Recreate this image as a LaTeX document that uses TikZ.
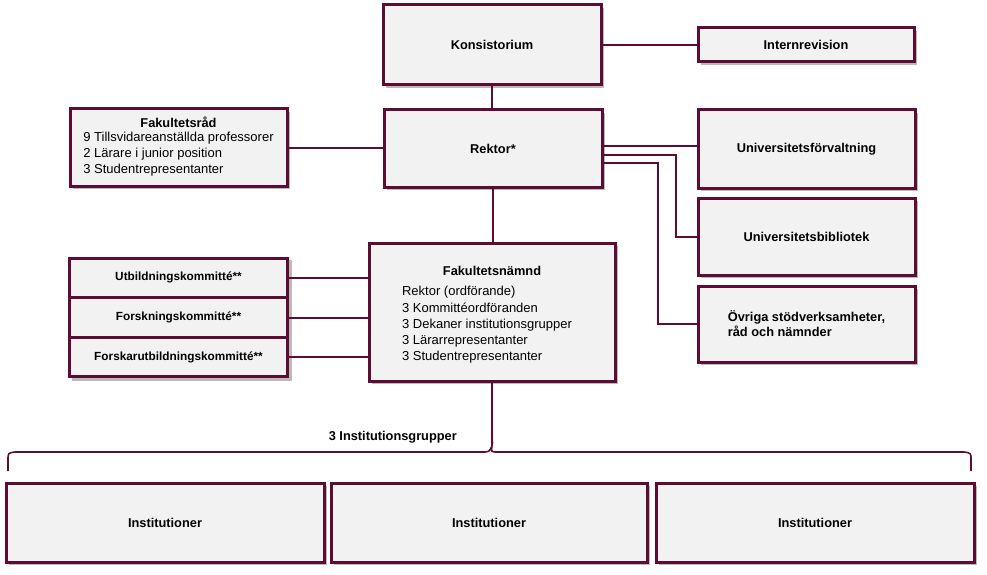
\documentclass[tikz,border=0pt]{standalone}
\usepackage{fontspec}
\setmainfont{Liberation Sans}
\usetikzlibrary{matrix, positioning, shadows}
\definecolor{orgred}{RGB}{94,12,52}
\definecolor{orgfill}{RGB}{242,242,242}
\tikzset{plainbox/.style = {%
    draw=orgred, line width=3pt, fill=orgfill,
    font=\bfseries\fontsize{12.8}{15}\selectfont,
    inner sep=4pt, anchor=center},
    orgbox/.style = {plainbox,
    drop shadow={shadow xshift=3pt, shadow yshift=-3pt,
                 opacity=0.45, fill=black!60}},
    orgline/.style = {draw=orgred, line width=2pt},
    kommittematrix/.style = {%
    matrix of nodes,
     nodes={plainbox, minimum width=217pt, minimum height=39.6pt,
            font=\bfseries\fontsize{11.8}{14}\selectfont},
    row sep=-3pt,
    inner sep=0pt,
    drop shadow={shadow xshift=3pt, shadow yshift=-3pt,
                 opacity=0.45, fill=black!60}},
    grplabel/.style = {font=\bfseries\fontsize{12.8}{15}\selectfont, inner sep=0pt}}

\begin{document}
\begin{tikzpicture}[x=1pt, y=-1pt]
\useasboundingbox (0,0) rectangle (987,575);

% top level
\node[orgbox, minimum width=218pt, minimum height=80pt] (konsistorium) at (492,45) {Konsistorium};
\node[orgbox, minimum width=216pt, minimum height=34pt] (internrevision) at (806,45) {Internrevision};
\node[orgbox, minimum width=218pt, minimum height=77pt] (rektor) at (493,148.5) {Rektor*};

% Fakultetsråd
\node[orgbox, minimum width=217pt, minimum height=77pt, align=center] (fakultetsrad) at (178.5,147.5)
  {Fakultetsråd\\[1pt]
   \mdseries\fontsize{13}{16}\selectfont
   \begin{tabular}{@{}l@{}}
   9 Tillsvidareanställda professorer\\
   2 Lärare i junior position\\
   3 Studentrepresentanter
   \end{tabular}};

% stödverksamheter
\node[orgbox, minimum width=217pt, minimum height=78pt] (forvaltning) at (806.5,149) {Universitetsförvaltning};
\node[orgbox, minimum width=217pt, minimum height=77pt] (bibliotek) at (806.5,236.5) {Universitetsbibliotek};
\node[orgbox, minimum width=217pt, minimum height=76pt, align=left] (ovriga) at (806.5,324)
  {Övriga stödverksamheter,\\råd och nämnder};

% Fakultetsnämnd
\node[orgbox, minimum width=246pt, minimum height=138pt, align=center] (namnd) at (492,312)
  {\rule{0pt}{17pt}Fakultetsnämnd\\[8pt]
   \mdseries\fontsize{13}{16.3}\selectfont
   \begin{tabular}{@{}l@{}}
   Rektor (ordförande)\\
   3 Kommittéordföranden\\
   3 Dekaner institutionsgrupper\\
   3 Lärarrepresentanter\\
   3 Studentrepresentanter
   \end{tabular}\hspace*{10pt}};

% kommittéer
\matrix (kom) at (178.5,317.5) [kommittematrix]
{
Utbildningskommitté**          \\
Forskningskommitté**           \\
Forskarutbildningskommitté**   \\
};

% institutioner
\node[orgbox, minimum width=318pt, minimum height=79pt] (inst1) at (165,522.5) {Institutioner};
\node[orgbox, minimum width=316pt, minimum height=79pt] (inst2) at (489,522.5) {Institutioner};
\node[orgbox, minimum width=318pt, minimum height=79pt] (inst3) at (815,522.5) {Institutioner};

% connectors
\draw[orgline] (konsistorium.east) -- (internrevision.west);
\draw[orgline] (konsistorium.south) -- (konsistorium.south |- rektor.north);
\draw[orgline] (fakultetsrad.east) -- (fakultetsrad.east -| rektor.west);
\draw[orgline] (rektor.south) -- (rektor.south |- namnd.north);
\draw[orgline] ([yshift=3pt]rektor.east) -- ([yshift=3pt]rektor.east -| forvaltning.west);
\draw[orgline] ([yshift=-6.5pt]rektor.east) -- ++(72,0) |- (bibliotek.west);
\draw[orgline] ([yshift=-14.5pt]rektor.east) -- ++(54,0) |- (ovriga.west);
\foreach \i in {1,2,3}
  \draw[orgline] (kom-\i-1.east) -- (kom-\i-1.east -| namnd.west);

% klammer till institutionsgrupperna
\coordinate (tip) at (namnd.south |- 0,446);
\draw[orgline] (namnd.south) -- (tip);
\draw[orgline, line width=1.6pt] (8,471) -- (8,460) .. controls (8,453) .. (15,452) -- (482,452)
  .. controls (489,452) .. (tip) .. controls (491,452) .. (498,452) -- (964,452)
  .. controls (971,453) .. (971,460) -- (971,471);
\node[grplabel, anchor=east] (grupper) at ([xshift=-35pt, yshift=9pt]tip) {3 Institutionsgrupper};
\end{tikzpicture}
\end{document}
